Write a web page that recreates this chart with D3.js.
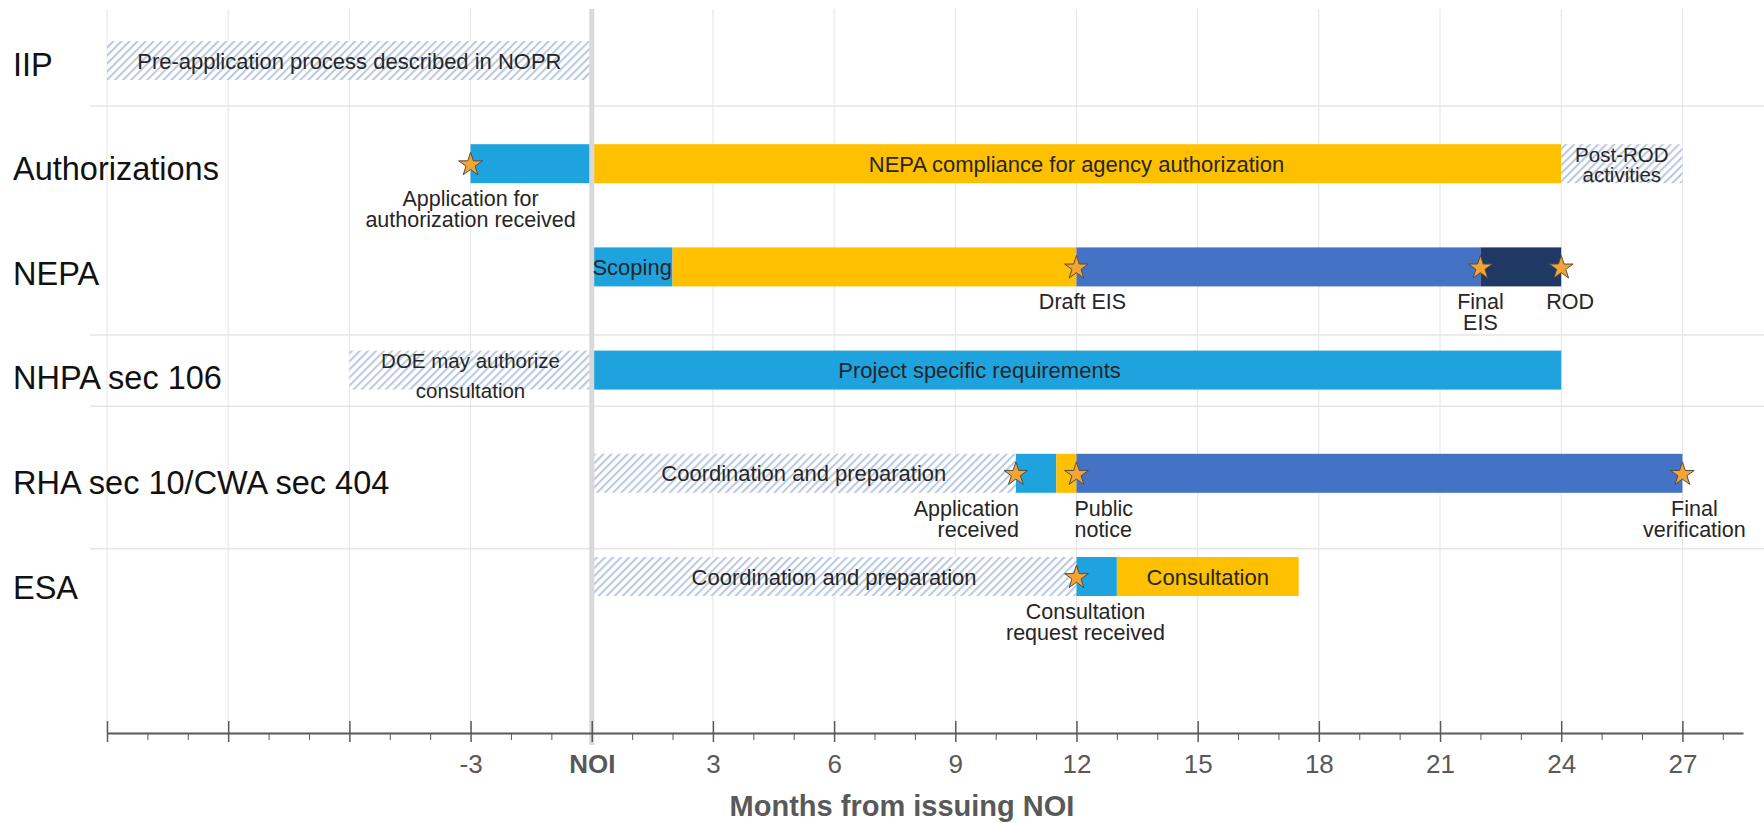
<!doctype html>
<html lang="en">
<head>
<meta charset="utf-8">
<title>Permitting timeline</title>
<style>
  body { margin: 0; background: #fff; }
  svg { display: block; font-family: "Liberation Sans", Arial, sans-serif; }
</style>
</head>
<body>
<script src="https://cdn.jsdelivr.net/npm/d3@7"></script>
<script>
const width = 1764, height = 823;

// rows of the timeline, top to bottom
const rows = ["IIP", "Authorizations", "NEPA", "NHPA sec 106", "RHA sec 10/CWA sec 404", "ESA"];

// bar pieces, months from issuing NOI
const segments = [
  { row: "IIP", from: -12, to: 0, kind: "prep", text: ["Pre-application process described in NOPR"] },
  { row: "Authorizations", from: -3, to: 0, kind: "light" },
  { row: "Authorizations", from: 0, to: 24, kind: "yellow", text: ["NEPA compliance for agency authorization"] },
  { row: "Authorizations", from: 24, to: 27, kind: "prep", text: ["Post-ROD", "activities"] },
  { row: "NEPA", from: 0, to: 2, kind: "light", text: ["Scoping"] },
  { row: "NEPA", from: 2, to: 12, kind: "yellow" },
  { row: "NEPA", from: 12, to: 22, kind: "blue" },
  { row: "NEPA", from: 22, to: 24, kind: "navy" },
  { row: "NHPA sec 106", from: -6, to: 0, kind: "prep", text: ["DOE may authorize", "consultation"] },
  { row: "NHPA sec 106", from: 0, to: 24, kind: "light", text: ["Project specific requirements"] },
  { row: "RHA sec 10/CWA sec 404", from: 0, to: 10.5, kind: "prep", text: ["Coordination and preparation"] },
  { row: "RHA sec 10/CWA sec 404", from: 10.5, to: 11.5, kind: "light" },
  { row: "RHA sec 10/CWA sec 404", from: 11.5, to: 12, kind: "yellow" },
  { row: "RHA sec 10/CWA sec 404", from: 12, to: 27, kind: "blue" },
  { row: "ESA", from: 0, to: 12, kind: "prep", text: ["Coordination and preparation"] },
  { row: "ESA", from: 12, to: 13, kind: "light" },
  { row: "ESA", from: 13, to: 17.5, kind: "yellow", text: ["Consultation"] }
];

// stars
const milestones = [
  { row: "Authorizations", month: -3, text: ["Application for", "authorization  received"] },
  { row: "NEPA", month: 12, text: ["Draft EIS"] },
  { row: "NEPA", month: 22, text: ["Final", "EIS"] },
  { row: "NEPA", month: 24, text: ["ROD"] },
  { row: "RHA sec 10/CWA sec 404", month: 10.5, text: ["Application", "received"] },
  { row: "RHA sec 10/CWA sec 404", month: 12, text: ["Public", "notice"] },
  { row: "RHA sec 10/CWA sec 404", month: 27, text: ["Final", "verification"] },
  { row: "ESA", month: 12, text: ["Consultation", "request received"] }
];

// row separators, in row units (between rows)
const separators = [0.44, 2.66, 3.35, 4.73];

const majorTicks = d3.range(-12, 28, 3);
const minorTicks = d3.range(-12, 29).filter(d => d % 3 !== 0);

const kindColor = { light: "#1ea3df", yellow: "#ffc000", blue: "#4472c4", navy: "#1f3864" };

// text tweaks that the original layout had
const segTextStyle = {
  "Project specific requirements": { center: 9.6 },
  "DOE may authorize consultation": { gap: 30, dy: 5 }
};
const msLabelStyle = {
  "Application received": { anchor: "end", dx: 3 },
  "Public notice": { anchor: "start", dx: -2 },
  "ROD": { dx: 9 },
  "Final verification": { dx: 12 },
  "Consultation request received": { dx: 9 },
  "Draft EIS": { dx: 6 }
};

const svg = d3.select("body").append("svg")
  .attr("width", width)
  .attr("height", height);

const x = d3.scaleLinear().domain([-12, 28.5]).range([107, 1743]);
const rowIdx = d => rows.indexOf(d);
const rowY = d3.scaleLinear().domain([0, rows.length - 1]).range([60.5, 576.5]);
const labelY = d3.scaleLinear().domain([0, rows.length - 1]).range([64, 587]);
const barH = 39;
const axisY = 733, gridTop = 9;

const defs = svg.append("defs");
const hatch = defs.append("pattern")
  .attr("id", "hatch")
  .attr("patternUnits", "userSpaceOnUse")
  .attr("width", 5.7)
  .attr("height", 5.7)
  .attr("patternTransform", "rotate(45)");
hatch.append("rect").attr("width", 5.7).attr("height", 5.7).attr("fill", "#fff");
hatch.append("line")
  .attr("x1", 1).attr("x2", 1).attr("y1", 0).attr("y2", 5.7)
  .attr("stroke", "#bccae0").attr("stroke-width", 2.2);

// vertical grid
svg.append("g").selectAll("line")
  .data(majorTicks)
  .join("line")
  .attr("x1", d => x(d)).attr("x2", d => x(d))
  .attr("y1", gridTop).attr("y2", axisY)
  .attr("stroke", "#e4e4e4")
  .attr("stroke-width", 1);

// row separators
svg.append("g").selectAll("line")
  .data(separators)
  .join("line")
  .attr("x1", 90).attr("x2", width)
  .attr("y1", d => rowY(d)).attr("y2", d => rowY(d))
  .attr("stroke", "#e6e6e6")
  .attr("stroke-width", 1.5);

// bars
svg.append("g").selectAll("rect")
  .data(segments)
  .join("rect")
  .attr("x", d => x(d.from))
  .attr("width", d => x(d.to) - x(d.from))
  .attr("y", d => rowY(rowIdx(d.row)) - barH / 2)
  .attr("height", barH)
  .attr("fill", d => d.kind === "prep" ? "url(#hatch)" : kindColor[d.kind]);

// NOI line
svg.append("line")
  .attr("x1", x(0)).attr("x2", x(0))
  .attr("y1", gridTop).attr("y2", axisY + 12)
  .attr("stroke", "#d9d9d9")
  .attr("stroke-width", 5);

// text inside bars
svg.append("g").selectAll("text")
  .data(segments.filter(d => d.text))
  .join("text")
  .attr("text-anchor", "middle")
  .attr("fill", "#262626")
  .style("font-size", d => d.text.length > 1 ? "20.5px" : "22px")
  .each(function(d) {
    const st = segTextStyle[d.text.join(" ")] || {};
    const cx = x(st.center !== undefined ? st.center : (d.from + d.to) / 2);
    const gap = st.gap || 20;
    const cy = rowY(rowIdx(d.row)) + 8 + (st.dy || 0);
    const n = d.text.length;
    d3.select(this).selectAll("tspan")
      .data(d.text)
      .join("tspan")
      .attr("x", cx)
      .attr("y", (t, i) => cy + (i - (n - 1) / 2) * gap)
      .text(t => t);
  });

// stars
svg.append("g").selectAll("path")
  .data(milestones)
  .join("path")
  .attr("transform", d => `translate(${x(d.month)},${rowY(rowIdx(d.row)) + 1})`)
  .attr("d", d3.symbol(d3.symbolStar, 175))
  .attr("fill", "#f5a431")
  .attr("stroke", "#4d4d4d")
  .attr("stroke-width", 1);

// star labels
svg.append("g").selectAll("text")
  .data(milestones)
  .join("text")
  .attr("fill", "#262626")
  .style("font-size", "21.5px")
  .each(function(d) {
    const st = msLabelStyle[d.text.join(" ")] || {};
    const tx = x(d.month) + (st.dx || 0);
    const top = rowY(rowIdx(d.row)) + barH / 2 + 23;
    d3.select(this)
      .attr("text-anchor", st.anchor || "middle")
      .selectAll("tspan")
      .data(d.text)
      .join("tspan")
      .attr("x", tx)
      .attr("y", (t, i) => top + i * 21)
      .text(t => t);
  });

// row labels
svg.append("g").selectAll("text")
  .data(rows)
  .join("text")
  .attr("x", 13)
  .attr("y", (d, i) => labelY(i) + 11.5)
  .attr("fill", "#111")
  .style("font-size", "32.5px")
  .text(d => d);

// axis
const axisG = svg.append("g")
  .attr("transform", `translate(0,${axisY})`)
  .call(d3.axisBottom(x)
    .tickValues(majorTicks)
    .tickSizeInner(9)
    .tickSizeOuter(0)
    .tickFormat(d => d < -3 ? "" : d === 0 ? "NOI" : d));

axisG.select(".domain").attr("stroke", "#595959").attr("stroke-width", 2);
axisG.selectAll(".tick line")
  .attr("y1", -12)
  .attr("stroke", "#595959")
  .attr("stroke-width", 1.5);
axisG.selectAll(".tick text")
  .attr("y", 40)
  .attr("dy", 0)
  .attr("fill", "#595959")
  .style("font-family", "'Liberation Sans', Arial, sans-serif")
  .style("font-size", "26px")
  .style("font-weight", d => d === 0 ? "bold" : "normal");

const minorG = svg.append("g")
  .attr("transform", `translate(0,${axisY})`)
  .call(d3.axisBottom(x)
    .tickValues(minorTicks)
    .tickSizeInner(7)
    .tickSizeOuter(0)
    .tickFormat(""));
minorG.select(".domain").remove();
minorG.selectAll(".tick line").attr("stroke", "#595959").attr("stroke-width", 1);

// axis title
svg.append("text")
  .attr("x", 902)
  .attr("y", 816)
  .attr("text-anchor", "middle")
  .attr("fill", "#595959")
  .style("font-size", "29px")
  .style("font-weight", "bold")
  .text("Months from issuing NOI");
</script>
</body>
</html>
